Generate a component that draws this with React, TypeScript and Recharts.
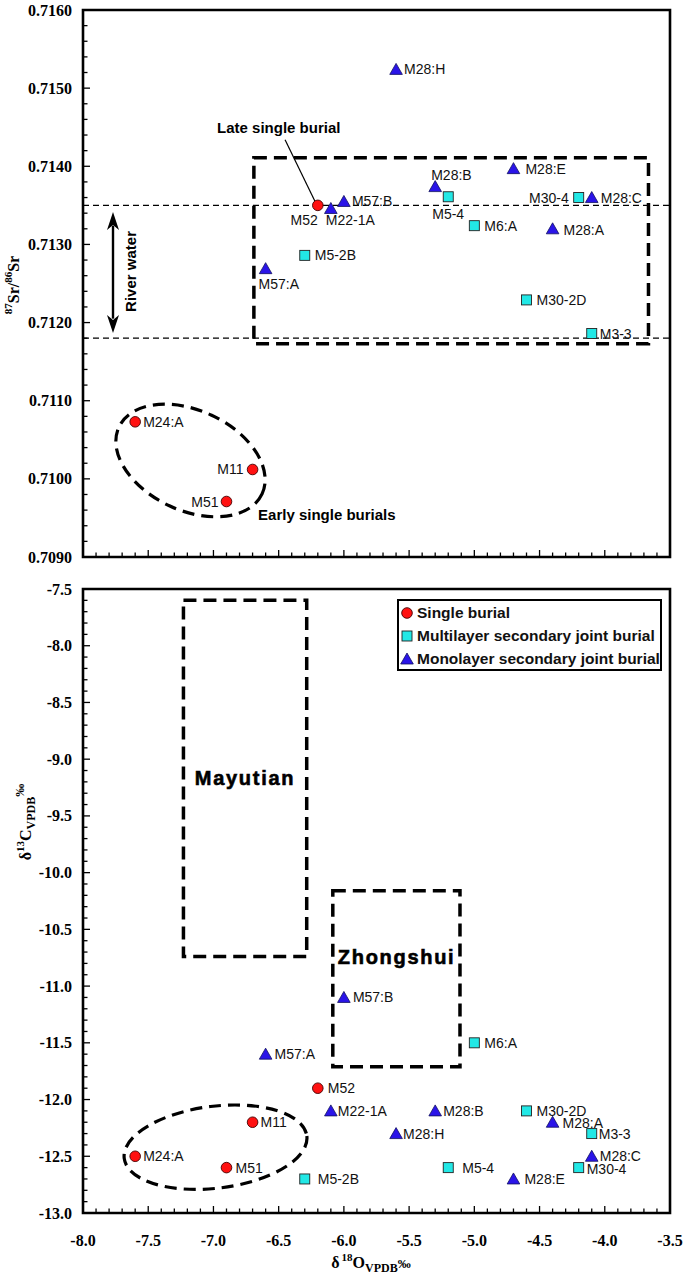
import {
  ScatterChart,
  Scatter,
  XAxis,
  YAxis,
  ReferenceArea,
  ReferenceLine,
  ReferenceDot,
  Legend,
} from "recharts";

type Sample = { name: string; o18: number; sr: number; c13: number };

// samples per burial type: d18O, 87Sr/86Sr, d13C
const singleBurial: Sample[] = [
  { name: "M52", o18: -6.2, sr: 0.7135, c13: -11.9 },
  { name: "M24:A", o18: -7.6, sr: 0.71073, c13: -12.5 },
  { name: "M11", o18: -6.7, sr: 0.71012, c13: -12.2 },
  { name: "M51", o18: -6.9, sr: 0.70971, c13: -12.6 },
];

const multilayerBurial: Sample[] = [
  { name: "M5-4", o18: -5.2, sr: 0.71361, c13: -12.6 },
  { name: "M30-4", o18: -4.2, sr: 0.7136, c13: -12.6 },
  { name: "M6:A", o18: -5.0, sr: 0.71324, c13: -11.5 },
  { name: "M5-2B", o18: -6.3, sr: 0.71286, c13: -12.7 },
  { name: "M30-2D", o18: -4.6, sr: 0.71229, c13: -12.1 },
  { name: "M3-3", o18: -4.1, sr: 0.71186, c13: -12.3 },
];

const monolayerBurial: Sample[] = [
  { name: "M28:H", o18: -5.6, sr: 0.71524, c13: -12.3 },
  { name: "M22-1A", o18: -6.1, sr: 0.71346, c13: -12.1 },
  { name: "M57:B", o18: -6.0, sr: 0.71355, c13: -11.1 },
  { name: "M28:B", o18: -5.3, sr: 0.71374, c13: -12.1 },
  { name: "M28:E", o18: -4.7, sr: 0.71397, c13: -12.7 },
  { name: "M28:C", o18: -4.1, sr: 0.7136, c13: -12.5 },
  { name: "M28:A", o18: -4.4, sr: 0.7132, c13: -12.2 },
  { name: "M57:A", o18: -6.6, sr: 0.71269, c13: -11.6 },
];

const seriesNames = [
  "Single burial",
  "Multilayer secondary joint burial",
  "Monolayer secondary joint burial",
];

const oxygenTicks = [-8.0, -7.5, -7.0, -6.5, -6.0, -5.5, -5.0, -4.5, -4.0, -3.5];
const srTicks = [0.709, 0.71, 0.711, 0.712, 0.713, 0.714, 0.715, 0.716];
const carbonTicks = [-13.0, -12.5, -12.0, -11.5, -11.0, -10.5, -10.0, -9.5, -9.0, -8.5, -8.0, -7.5];

// river water band and boxes
const riverWaterRange = [0.7118, 0.7135];
const localSrBox = { x1: -6.69, x2: -3.665, y1: 0.71173, y2: 0.71411 };
const mayutianBox = { x1: -7.23, x2: -6.285, y1: -10.74, y2: -7.6 };
const zhongshuiBox = { x1: -6.085, x2: -5.11, y1: -11.71, y2: -10.16 };

const minorTicks = (from: number, to: number, step: number, digits: number) => {
  const out: number[] = [];
  const n = Math.round((to - from) / step);
  for (let i = 0; i <= n; i++) out.push(+(from + i * step).toFixed(digits));
  return out;
};

const oxygenMinor = minorTicks(-8, -3.5, 0.1, 1);
const srMinor = minorTicks(0.709, 0.716, 0.0002, 4);
const carbonMinor = minorTicks(-13, -7.5, 0.1, 1);

const SERIF = '"Liberation Serif", "Times New Roman", serif';
const SANS = '"Liberation Sans", Arial, sans-serif';
const RED = "#ff1111";
const CYAN = "#22e8e6";
const BLUE = "#2a14e8";

// label offsets [dx, dy, anchor]
type Place = [number, number, "start" | "end"];
const srLabelPlace: Record<string, Place> = {
  "M28:H": [8, 0, "start"],
  M52: [0, 15, "end"],
  "M22-1A": [-5, 12, "start"],
  "M57:B": [8, 0, "start"],
  "M28:B": [-4, -12, "start"],
  "M5-4": [-16, 17, "start"],
  "M28:E": [12, 0, "start"],
  "M30-4": [-10, 0, "end"],
  "M28:C": [9, 0, "start"],
  "M6:A": [10, 0, "start"],
  "M28:A": [11, 1, "start"],
  "M5-2B": [10, 0, "start"],
  "M57:A": [-7, 15, "start"],
  "M30-2D": [10, 0, "start"],
  "M3-3": [8, 0, "start"],
  "M24:A": [8, 0, "start"],
  M11: [-9, 0, "end"],
  M51: [-8, 0, "end"],
};
const cLabelPlace: Record<string, Place> = {
  "M24:A": [8, 0, "start"],
  M51: [9, 0, "start"],
  M11: [8, 0, "start"],
  "M57:A": [9, 0, "start"],
  M52: [10, 0, "start"],
  "M22-1A": [7, 0, "start"],
  "M5-2B": [13, 0, "start"],
  "M57:B": [9, 0, "start"],
  "M6:A": [10, 0, "start"],
  "M28:B": [8, 0, "start"],
  "M28:H": [7, 0, "start"],
  "M5-4": [14, 0, "start"],
  "M28:E": [11, 0, "start"],
  "M30-2D": [10, 0, "start"],
  "M28:A": [10, 1, "start"],
  "M3-3": [7, 0, "start"],
  "M28:C": [8, 0, "start"],
  "M30-4": [8, 1, "start"],
};

type Kind = "circle" | "square" | "triangle";
const seriesKinds: Kind[] = ["circle", "square", "triangle"];

const drawMarker = (kind: Kind, cx: number, cy: number) => {
  if (kind === "circle")
    return <circle cx={cx} cy={cy} r={5.3} fill={RED} stroke="#400" strokeWidth={0.9} />;
  if (kind === "square")
    return <rect x={cx - 5} y={cy - 5} width={10} height={10} fill={CYAN} stroke="#222" strokeWidth={0.9} />;
  return (
    <polygon
      points={`${cx},${cy - 6} ${cx - 6.3},${cy + 5} ${cx + 6.3},${cy + 5}`}
      fill={BLUE}
      stroke="#101060"
      strokeWidth={0.8}
    />
  );
};

const makeShape = (kind: Kind, places: Record<string, Place>) => (props: any) => {
  const { cx, cy, payload } = props;
  const [dx, dy, anchor] = places[payload.name] ?? [8, 0, "start"];
  return (
    <g>
      {drawMarker(kind, cx, cy)}
      <text x={cx + dx} y={cy + dy + 5} textAnchor={anchor} fontFamily={SANS} fontSize={14} fill="#111">
        {payload.name}
      </text>
    </g>
  );
};

const isMajor = (v: number, majors: number[]) => majors.some((m) => Math.abs(m - v) < 1e-9);

const makeXTick = (withLabel: boolean) => (props: any) => {
  const { x, y, payload } = props;
  const major = isMajor(payload.value, oxygenTicks);
  return (
    <g>
      <line x1={x} y1={y} x2={x} y2={y - (major ? 7 : 4.5)} stroke="#000" strokeWidth={1.3} />
      {withLabel && major && (
        <text x={x} y={y + 32.5} textAnchor="middle" fontFamily={SERIF} fontWeight="bold" fontSize={16} fill="#000">
          {payload.value.toFixed(1)}
        </text>
      )}
    </g>
  );
};

const makeYTick = (majors: number[], digits: number) => (props: any) => {
  const { x, y, payload } = props;
  const major = isMajor(payload.value, majors);
  return (
    <g>
      <line x1={x} y1={y} x2={x + (major ? 7 : 4.5)} y2={y} stroke="#000" strokeWidth={1.3} />
      {major && (
        <text x={x - 11} y={y + 5.5} textAnchor="end" fontFamily={SERIF} fontWeight="bold" fontSize={16} fill="#000">
          {payload.value.toFixed(digits)}
        </text>
      )}
    </g>
  );
};

const SrTitle = () => (
  <text
    x={19}
    y={285}
    transform="rotate(-90 19 285)"
    textAnchor="middle"
    fontFamily={SERIF}
    fontWeight="bold"
    fontSize={16}
    fill="#000"
  >
    <tspan fontSize={11} dy={-7}>87</tspan>
    <tspan dy={7}>Sr/</tspan>
    <tspan fontSize={11} dy={-7}>86</tspan>
    <tspan dy={7}>Sr</tspan>
  </text>
);

const CTitle = () => (
  <text
    x={31}
    y={247}
    transform="rotate(-90 31 247)"
    textAnchor="middle"
    fontFamily={SERIF}
    fontWeight="bold"
    fontSize={16}
    fill="#000"
  >
    <tspan>δ</tspan>
    <tspan fontSize={11} dy={-7}>13</tspan>
    <tspan dy={7}>C</tspan>
    <tspan fontSize={12} dy={4}>VPDB</tspan>
    <tspan fontSize={13} dy={-11}>‰</tspan>
  </text>
);

const OTitle = () => (
  <text x={371} y={693} textAnchor="middle" fontFamily={SERIF} fontWeight="bold" fontSize={16} fill="#000">
    <tspan>δ</tspan>
    <tspan fontSize={11} dx={2} dy={-7}>18</tspan>
    <tspan dy={7}>O</tspan>
    <tspan fontSize={12} dy={4}>VPDB</tspan>
    <tspan fontSize={13} dy={-4}>‰</tspan>
  </text>
);

const boldNote = (text: string, anchor: "start" | "middle" = "start", size = 15) => (props: any) => (
  <text
    x={props.cx}
    y={props.cy + size * 0.36}
    textAnchor={anchor}
    fontFamily={SANS}
    fontWeight="bold"
    fontSize={size}
    fill="#000"
  >
    {text}
  </text>
);

const regionName = (text: string) => (props: any) => (
  <text
    x={props.cx}
    y={props.cy + 7}
    textAnchor="middle"
    fontFamily={SANS}
    fontWeight="bold"
    fontSize={20}
    letterSpacing={1.7}
    stroke="#000"
    strokeWidth={0.6}
    fill="#000"
  >
    {text}
  </text>
);

const riverText = (props: any) => (
  <text
    x={props.cx}
    y={props.cy}
    transform={`rotate(-90 ${props.cx} ${props.cy})`}
    dy={5}
    textAnchor="middle"
    fontFamily={SANS}
    fontWeight="bold"
    fontSize={15}
    fill="#000"
  >
    River water
  </text>
);

const arrowHead = (up: boolean) => (props: any) => {
  const { cx, cy } = props;
  const s = up ? 1 : -1;
  return (
    <polygon
      points={`${cx},${cy} ${cx - 6},${cy + s * 18} ${cx},${cy + s * 13} ${cx + 6},${cy + s * 18}`}
      fill="#000"
    />
  );
};

const ellipse = (rx: number, ry: number, angle: number) => (props: any) => (
  <ellipse
    cx={props.cx}
    cy={props.cy}
    rx={rx}
    ry={ry}
    transform={`rotate(${angle} ${props.cx} ${props.cy})`}
    fill="none"
    stroke="#000"
    strokeWidth={3.2}
    strokeDasharray="12 7"
  />
);

// legend always in the reference order, whatever order recharts hands the payload
const LegendBox = (props: any) => {
  const items = [...(props.payload || [])].sort(
    (a: any, b: any) => seriesNames.indexOf(a.value) - seriesNames.indexOf(b.value)
  );
  return (
    <div
      style={{
        boxSizing: "border-box",
        width: 265,
        height: 72,
        border: "2px solid #000",
        background: "#fff",
        paddingTop: 0,
      }}
    >
      {items.map((item: any) => (
        <div key={item.value} style={{ display: "flex", alignItems: "center", height: 23.2 }}>
          <svg width={14} height={14} style={{ marginLeft: 1, marginRight: 3 }}>
            {drawMarker(seriesKinds[Math.max(0, seriesNames.indexOf(item.value))], 7, 7)}
          </svg>
          <span style={{ fontFamily: SANS, fontWeight: "bold", fontSize: 15.5, color: "#111", whiteSpace: "nowrap" }}>
            {item.value}
          </span>
        </div>
      ))}
    </div>
  );
};

export default function App() {
  return (
    <div style={{ position: "absolute", left: 0, top: 0, width: 685, height: 1275, background: "#fff" }}>
      <ScatterChart width={685} height={575} margin={{ top: 10, right: 15, bottom: 0, left: 0 }}>
        <XAxis
          type="number"
          dataKey="o18"
          domain={[-8, -3.5]}
          ticks={oxygenMinor}
          interval={0}
          allowDataOverflow
          axisLine={false}
          tickLine={false}
          tickSize={0}
          tickMargin={0}
          height={18}
          tick={makeXTick(false)}
        />
        <YAxis
          type="number"
          dataKey="sr"
          domain={[0.709, 0.716]}
          ticks={srMinor}
          interval={0}
          allowDataOverflow
          axisLine={false}
          tickLine={false}
          tickSize={0}
          tickMargin={0}
          width={83}
          tick={makeYTick(srTicks, 4)}
          label={<SrTitle />}
        />
        <ReferenceArea x1={-8} x2={-3.5} y1={0.709} y2={0.716} fill="none" stroke="#000" strokeWidth={2.6} />
        <ReferenceLine y={riverWaterRange[1]} stroke="#000" strokeWidth={1.2} strokeDasharray="6 4" />
        <ReferenceLine y={riverWaterRange[0]} stroke="#000" strokeWidth={1.2} strokeDasharray="6 4" />
        <ReferenceArea
          x1={localSrBox.x1}
          x2={localSrBox.x2}
          y1={localSrBox.y1}
          y2={localSrBox.y2}
          fill="none"
          stroke="#000"
          strokeWidth={3.5}
          strokeDasharray="13 7"
        />
        <ReferenceLine
          segment={[
            { x: -7.77, y: 0.71324 },
            { x: -7.77, y: 0.71205 },
          ]}
          stroke="#000"
          strokeWidth={2.4}
        />
        <ReferenceDot x={-7.77} y={0.713415} r={0} shape={arrowHead(true)} />
        <ReferenceDot x={-7.77} y={0.711867} r={0} shape={arrowHead(false)} />
        <ReferenceDot x={-7.632} y={0.712654} r={0} shape={riverText} />
        <ReferenceLine
          segment={[
            { x: -6.451, y: 0.71434 },
            { x: -6.221, y: 0.71355 },
          ]}
          stroke="#000"
          strokeWidth={1.2}
        />
        <ReferenceDot x={-6.972} y={0.71449} r={0} shape={boldNote("Late single burial")} />
        <ReferenceDot x={-6.658} y={0.709538} r={0} shape={boldNote("Early single burials")} />
        <ReferenceDot x={-7.176} y={0.710235} r={0} shape={ellipse(79, 50, 25)} />
        <Scatter
          name={seriesNames[0]}
          data={singleBurial}
          dataKey="sr"
          fill={RED}
          shape={makeShape("circle", srLabelPlace)}
          isAnimationActive={false}
        />
        <Scatter
          name={seriesNames[1]}
          data={multilayerBurial}
          dataKey="sr"
          fill={CYAN}
          shape={makeShape("square", srLabelPlace)}
          isAnimationActive={false}
        />
        <Scatter
          name={seriesNames[2]}
          data={monolayerBurial}
          dataKey="sr"
          fill={BLUE}
          shape={makeShape("triangle", srLabelPlace)}
          isAnimationActive={false}
        />
      </ScatterChart>

      <ScatterChart width={685} height={700} margin={{ top: 14, right: 15, bottom: 0, left: 0 }}>
        <XAxis
          type="number"
          dataKey="o18"
          domain={[-8, -3.5]}
          ticks={oxygenMinor}
          interval={0}
          allowDataOverflow
          axisLine={false}
          tickLine={false}
          tickSize={0}
          tickMargin={0}
          height={62}
          tick={makeXTick(true)}
          label={<OTitle />}
        />
        <YAxis
          type="number"
          dataKey="c13"
          domain={[-13, -7.5]}
          ticks={carbonMinor}
          interval={0}
          allowDataOverflow
          axisLine={false}
          tickLine={false}
          tickSize={0}
          tickMargin={0}
          width={83}
          tick={makeYTick(carbonTicks, 1)}
          label={<CTitle />}
        />
        <ReferenceArea x1={-8} x2={-3.5} y1={-13} y2={-7.5} fill="none" stroke="#000" strokeWidth={2.6} />
        <ReferenceArea
          x1={mayutianBox.x1}
          x2={mayutianBox.x2}
          y1={mayutianBox.y1}
          y2={mayutianBox.y2}
          fill="none"
          stroke="#000"
          strokeWidth={3.5}
          strokeDasharray="13 7"
        />
        <ReferenceArea
          x1={zhongshuiBox.x1}
          x2={zhongshuiBox.x2}
          y1={zhongshuiBox.y1}
          y2={zhongshuiBox.y2}
          fill="none"
          stroke="#000"
          strokeWidth={3.5}
          strokeDasharray="13 7"
        />
        <ReferenceDot x={-6.758} y={-9.163} r={0} shape={regionName("Mayutian")} />
        <ReferenceDot x={-5.596} y={-10.74} r={0} shape={regionName("Zhongshui")} />
        <ReferenceDot x={-6.984} y={-12.42} r={0} shape={ellipse(92, 41, -7)} />
        <Scatter
          name={seriesNames[0]}
          data={singleBurial}
          dataKey="c13"
          fill={RED}
          shape={makeShape("circle", cLabelPlace)}
          isAnimationActive={false}
        />
        <Scatter
          name={seriesNames[1]}
          data={multilayerBurial}
          dataKey="c13"
          fill={CYAN}
          shape={makeShape("square", cLabelPlace)}
          isAnimationActive={false}
        />
        <Scatter
          name={seriesNames[2]}
          data={monolayerBurial}
          dataKey="c13"
          fill={BLUE}
          shape={makeShape("triangle", cLabelPlace)}
          isAnimationActive={false}
        />
        <Legend
          layout="vertical"
          align="center"
          verticalAlign="middle"
          content={<LegendBox />}
          wrapperStyle={{ left: 397, top: 24, width: 265, height: 72 }}
        />
      </ScatterChart>
    </div>
  );
}
